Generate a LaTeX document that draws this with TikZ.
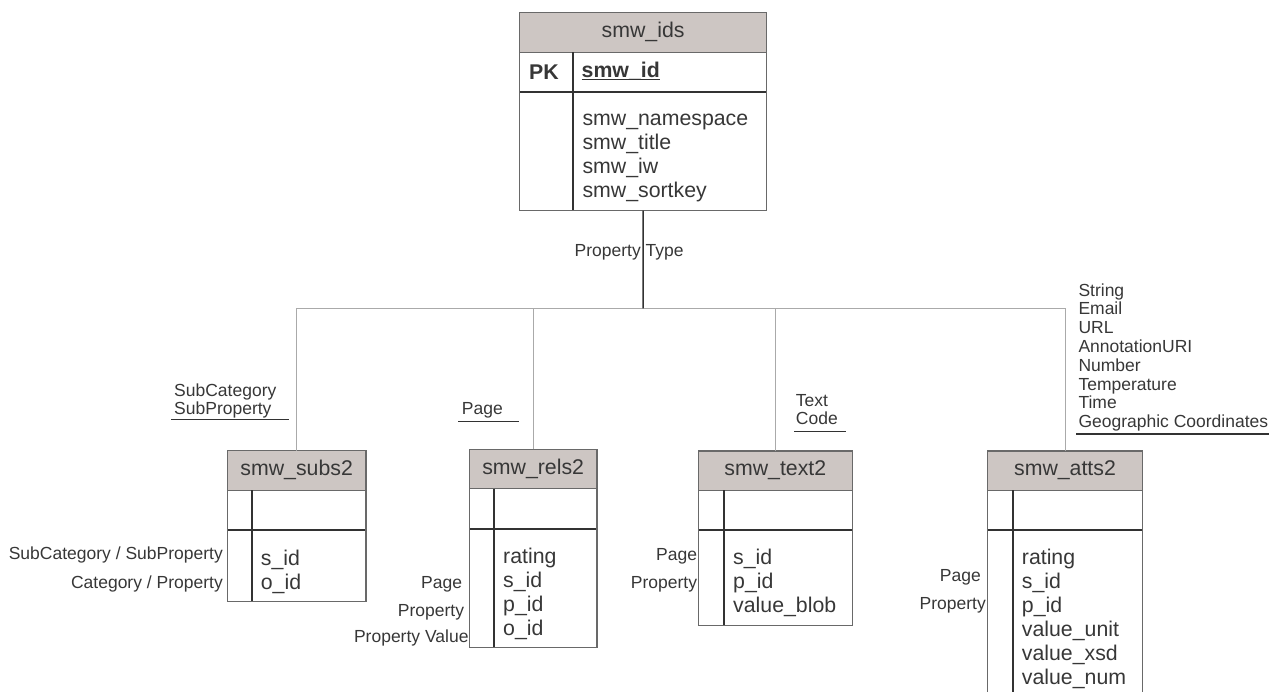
\documentclass[tikz,border=0pt]{standalone}
\usepackage{fontspec}
\setmainfont{Liberation Sans}

\definecolor{hdrfill}{RGB}{205,198,195}
\definecolor{framegray}{RGB}{105,105,105}
\definecolor{darkline}{RGB}{50,50,50}
\definecolor{busgray}{RGB}{170,170,170}
\definecolor{ink}{RGB}{55,55,55}

\newcommand{\tblfont}{\fontsize{21.3}{24}\selectfont}
\newcommand{\lblfont}{\fontsize{17.5}{19}\selectfont}

% #1 name, #2 left, #3 top, #4 right, #5 bottom, #6 key column divider, #7 title
\newcommand{\erTable}[7]{%
  \node[hdr, anchor=north west, minimum width={#4pt-#2pt}] (#1) at (#2,#3) {#7};
  \draw[divider] (#6,#3+39.3) -- (#6,#5);
  \draw[divider] (#2,#3+79.3) -- (#4,#3+79.3);
  \node[frame, anchor=north west, minimum width={#4pt-#2pt},
        minimum height={#5pt-#3pt}] (#1-box) at (#2,#3) {};
}

\begin{document}
\begin{tikzpicture}[x=1pt, y=-1pt,
  hdr/.style={fill=hdrfill, draw=framegray, line width=1pt, minimum height=39.3pt,
              inner sep=0pt, outer sep=0pt, font=\tblfont, text=ink},
  frame/.style={draw=framegray, line width=1.4pt, inner sep=0pt, outer sep=0pt},
  divider/.style={draw=darkline, line width=2.2pt},
  field/.style={anchor=base west, inner sep=0pt, font=\tblfont, text=ink},
  keyfield/.style={anchor=base west, inner sep=0pt, font=\tblfont\bfseries, text=ink},
  sidelbl/.style={anchor=base east, inner sep=0pt, font=\lblfont, text=ink},
  toplbl/.style={anchor=base west, inner sep=0pt, font=\lblfont, text=ink},
  stem/.style={draw=darkline, line width=1.3pt},
  busline/.style={draw=busgray, line width=1pt},
  rule/.style={draw=darkline, line width=1.2pt}]

\useasboundingbox (0,0) rectangle (1269,691);
\clip (0,0) rectangle (1269,691);

% ---- tables -------------------------------------------------------------
\erTable{ids}{519.5}{12.7}{766.7}{210.7}{573.3}{smw\_ids}
\erTable{subs}{227.3}{450.7}{366}{601.7}{251.7}{smw\_subs2}
\erTable{rels}{469.3}{449.3}{597}{647.7}{494}{smw\_rels2}
\erTable{text}{698.3}{451}{852.3}{625.7}{724}{smw\_text2}
\erTable{atts}{987.7}{451}{1142.3}{705}{1012.7}{smw\_atts2}

% primary key row of smw_ids
\node[keyfield] (pk) at (529,79) {PK};
\node[keyfield] (pkid) at (581.5,77.5) {smw\_id};
\draw[darkline, line width=1.5pt] (pkid.base west |- 0,79.3) -- (pkid.base east |- 0,79.3);

% ---- field lists ----------------------------------------------------------
\foreach \f [count=\i from 0] in {smw\_namespace, smw\_title, smw\_iw, smw\_sortkey}
  \node[field] (ids-f\i) at (582.3, 125+24*\i) {\f};
\foreach \f [count=\i from 0] in {s\_id, o\_id}
  \node[field] (subs-f\i) at (260.7, 565+24*\i) {\f};
\foreach \f [count=\i from 0] in {rating, s\_id, p\_id, o\_id}
  \node[field] (rels-f\i) at (503, 563.5+24*\i) {\f};
\foreach \f [count=\i from 0] in {s\_id, p\_id, value\_blob}
  \node[field] (text-f\i) at (733, 564.5+24*\i) {\f};
\foreach \f [count=\i from 0] in {rating, s\_id, p\_id, value\_unit, value\_xsd, value\_num}
  \node[field] (atts-f\i) at (1021.7, 564+24*\i) {\f};

% ---- labels beside the foreign keys ---------------------------------------
\node[sidelbl] (subs-l1) at (223,559) {SubCategory / SubProperty};
\node[sidelbl] (subs-l2) at (223,588) {Category / Property};
\node[sidelbl] (rels-l1) at (462.3,588.3) {Page};
\node[sidelbl] (rels-l2) at (464.3,616) {Property};
\node[sidelbl] (rels-l3) at (468.7,642.7) {Property Value};
\node[sidelbl] (text-l1) at (697.3,560) {Page};
\node[sidelbl] (text-l2) at (697.3,588.3) {Property};
\node[sidelbl] (atts-l1) at (981,581.7) {Page};
\node[sidelbl] (atts-l2) at (986,609.3) {Property};

% ---- connectors -----------------------------------------------------------
\coordinate (bus) at (643.1,308.3);
\draw[busline] (subs.north) |- (bus) -| (atts.north);
\draw[busline] (rels.north) -- (rels.north |- bus);
\draw[busline] (text.north) -- (text.north |- bus);
\draw[stem] (ids-box.south) -- (bus);

% ---- property type labels -------------------------------------------------
\node[toplbl] (ptype) at (574.5,256.7) {Property Type};

\node[toplbl] (subs-t1) at (174,396) {SubCategory};
\node[toplbl] (subs-t2) at (174,414.3) {SubProperty};
\draw[rule] (171,419.3) -- (288.7,419.3);

\node[toplbl] (rels-t1) at (461.7,414.3) {Page};
\draw[rule] (458.3,421.3) -- (519,421.3);

\node[toplbl] (text-t1) at (795.7,406) {Text};
\node[toplbl] (text-t2) at (795.7,424.3) {Code};
\draw[rule] (794,431.7) -- (845.7,431.7);

\foreach \t [count=\i from 0] in {String, Email, URL, AnnotationURI, Number,
    Temperature, Time, Geographic Coordinates}
  \node[toplbl] (atts-t\i) at (1078.3, 296+18.8*\i) {\t};
\draw[rule] (1076,434) -- (1269,434);

\end{tikzpicture}
\end{document}
